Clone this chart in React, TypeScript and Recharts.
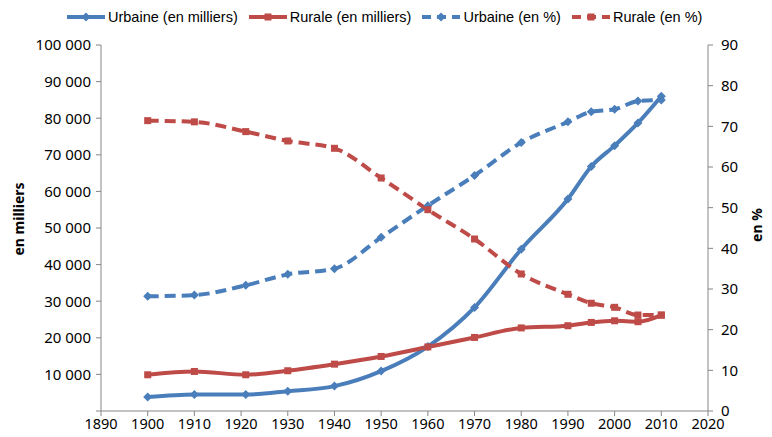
import React from 'react';
import { ComposedChart, Line, XAxis, YAxis, Legend } from 'recharts';

const years = [1900, 1910, 1921, 1930, 1940, 1950, 1960, 1970, 1980, 1990, 1995, 2000, 2005, 2010];
const urbanK = [3800, 4500, 4500, 5400, 6800, 10900, 17600, 28300, 44200, 57900, 66800, 72500, 78700, 86000];
const ruralK = [9900, 10800, 9900, 11000, 12800, 14900, 17500, 20100, 22700, 23300, 24200, 24650, 24400, 26200];
const urbanPct = [28.2, 28.5, 30.9, 33.6, 35.0, 42.7, 50.5, 57.9, 66.0, 71.1, 73.6, 74.2, 76.2, 76.5];
const ruralPct = [71.4, 71.1, 68.7, 66.4, 64.6, 57.3, 49.5, 42.3, 33.7, 28.7, 26.5, 25.5, 23.6, 23.6];

const xTicks = [1890, 1900, 1910, 1920, 1930, 1940, 1950, 1960, 1970, 1980, 1990, 2000, 2010, 2020];
const leftTicks = [0, 10000, 20000, 30000, 40000, 50000, 60000, 70000, 80000, 90000, 100000];
const rightTicks = [0, 10, 20, 30, 40, 50, 60, 70, 80, 90];

const seriesNames = ['Urbaine (en milliers)', 'Rurale (en milliers)', 'Urbaine (en %)', 'Rurale (en %)'];

const BLUE = '#4A7EBB';
const RED = '#BE4B48';
const AXIS = '#868686';
const DASH = '11 6';

const data = years.map((y, i) => ({
  year: y,
  urbanK: urbanK[i],
  ruralK: ruralK[i],
  urbanPct: urbanPct[i],
  ruralPct: ruralPct[i],
}));

const fmtThousands = (v: number) => {
  if (v === 0) return '';
  const s = String(Math.round(v));
  return s.replace(/\B(?=(\d{3})+(?!\d))/g, ' ');
};

const DiamondDot = (props: any) => {
  const { cx, cy, fill } = props;
  if (cx == null || cy == null) return null;
  const r = 4.5;
  return <path d={`M${cx},${cy - r}L${cx + r},${cy}L${cx},${cy + r}L${cx - r},${cy}Z`} fill={fill} />;
};

const SquareDot = (props: any) => {
  const { cx, cy, fill } = props;
  if (cx == null || cy == null) return null;
  const s = 7;
  return <rect x={cx - s / 2} y={cy - s / 2} width={s} height={s} fill={fill} />;
};

const legendItems = [
  { name: seriesNames[0], color: BLUE, dashed: false, shape: 'diamond' },
  { name: seriesNames[1], color: RED, dashed: false, shape: 'square' },
  { name: seriesNames[2], color: BLUE, dashed: true, shape: 'diamond' },
  { name: seriesNames[3], color: RED, dashed: true, shape: 'square' },
];

const LegendContent = () => (
  <div
    style={{
      display: 'flex',
      alignItems: 'center',
      paddingLeft: 66,
      height: 26,
      fontFamily: '"Liberation Sans", Arial, sans-serif',
      fontSize: 14.5,
      color: '#000',
      whiteSpace: 'nowrap',
    }}
  >
    {legendItems.map((it, i) => (
      <div key={i} style={{ display: 'flex', alignItems: 'center', marginRight: 10 }}>
        <svg width={40} height={12} style={{ marginRight: 2 }}>
          <line
            x1={1}
            y1={6}
            x2={39}
            y2={6}
            stroke={it.color}
            strokeWidth={4}
            strokeDasharray={it.dashed ? '9 6' : undefined}
          />
          {it.shape === 'diamond' ? (
            <path d="M20,1.5L24.5,6L20,10.5L15.5,6Z" fill={it.color} />
          ) : (
            <rect x={16.5} y={2.5} width={7} height={7} fill={it.color} />
          )}
        </svg>
        <span>{it.name}</span>
      </div>
    ))}
  </div>
);

const LeftLabel = (props: any) => {
  const vb = props.viewBox || {};
  const cx = 18;
  const cy = (vb.y ?? 45) + (vb.height ?? 365) / 2 - 9;
  return (
    <text
      x={cx}
      y={cy}
      transform={`rotate(-90, ${cx}, ${cy})`}
      textAnchor="middle"
      dominantBaseline="central"
      fontFamily='"Noto Sans", sans-serif'
      fontWeight="bold"
      fontSize={14}
      fill="#000"
    >
      en milliers
    </text>
  );
};

const RightLabel = (props: any) => {
  const vb = props.viewBox || {};
  const cx = (vb.x ?? 708) + 48;
  const cy = (vb.y ?? 45) + (vb.height ?? 365) / 2 - 3;
  return (
    <text
      x={cx}
      y={cy}
      transform={`rotate(-90, ${cx}, ${cy})`}
      textAnchor="middle"
      dominantBaseline="central"
      fontFamily='"Noto Sans", sans-serif'
      fontWeight="bold"
      fontSize={14}
      fill="#000"
    >
      en %
    </text>
  );
};

const tickStyle = { fontFamily: '"Noto Sans", sans-serif', fontSize: 15, fill: '#000' };

export default function App() {
  return (
    <div style={{ position: 'absolute', left: 0, top: 0, width: 772, height: 437, background: '#fff' }}>
      <ComposedChart width={772} height={437} data={data} margin={{ top: 45, right: 0, bottom: 0, left: 0 }}>
        <XAxis
          dataKey="year"
          type="number"
          domain={[1890, 2020]}
          ticks={xTicks}
          interval={0}
          height={26}
          stroke={AXIS}
          tickSize={5}
          tickMargin={3}
          tick={{ ...tickStyle, fontSize: 14.5 }}
          tickLine={{ stroke: AXIS }}
        />
        <YAxis
          yAxisId="left"
          orientation="left"
          domain={[0, 100000]}
          ticks={leftTicks}
          interval={0}
          width={101}
          stroke={AXIS}
          tickSize={5}
          tickMargin={5}
          tick={tickStyle}
          tickFormatter={fmtThousands}
          label={<LeftLabel />}
        />
        <YAxis
          yAxisId="right"
          orientation="right"
          domain={[0, 90]}
          ticks={rightTicks}
          interval={0}
          width={64}
          stroke={AXIS}
          tickSize={5}
          tickMargin={8}
          tick={{ ...tickStyle, textAnchor: 'start' }}
          label={<RightLabel />}
        />
        <Legend
          layout="horizontal"
          verticalAlign="middle"
          align="center"
          wrapperStyle={{ top: 4, left: 0, width: 772 }}
          content={<LegendContent />}
        />
        <Line
          yAxisId="left"
          dataKey="urbanK"
          name={seriesNames[0]}
          type="monotone"
          stroke={BLUE}
          strokeWidth={4}
          dot={<DiamondDot fill={BLUE} />}
          activeDot={false}
          isAnimationActive={false}
        />
        <Line
          yAxisId="left"
          dataKey="ruralK"
          name={seriesNames[1]}
          type="monotone"
          stroke={RED}
          strokeWidth={4}
          dot={<SquareDot fill={RED} />}
          activeDot={false}
          isAnimationActive={false}
        />
        <Line
          yAxisId="right"
          dataKey="urbanPct"
          name={seriesNames[2]}
          type="monotone"
          stroke={BLUE}
          strokeWidth={4}
          strokeDasharray={DASH}
          dot={<DiamondDot fill={BLUE} />}
          activeDot={false}
          isAnimationActive={false}
        />
        <Line
          yAxisId="right"
          dataKey="ruralPct"
          name={seriesNames[3]}
          type="monotone"
          stroke={RED}
          strokeWidth={4}
          strokeDasharray={DASH}
          dot={<SquareDot fill={RED} />}
          activeDot={false}
          isAnimationActive={false}
        />
      </ComposedChart>
    </div>
  );
}
